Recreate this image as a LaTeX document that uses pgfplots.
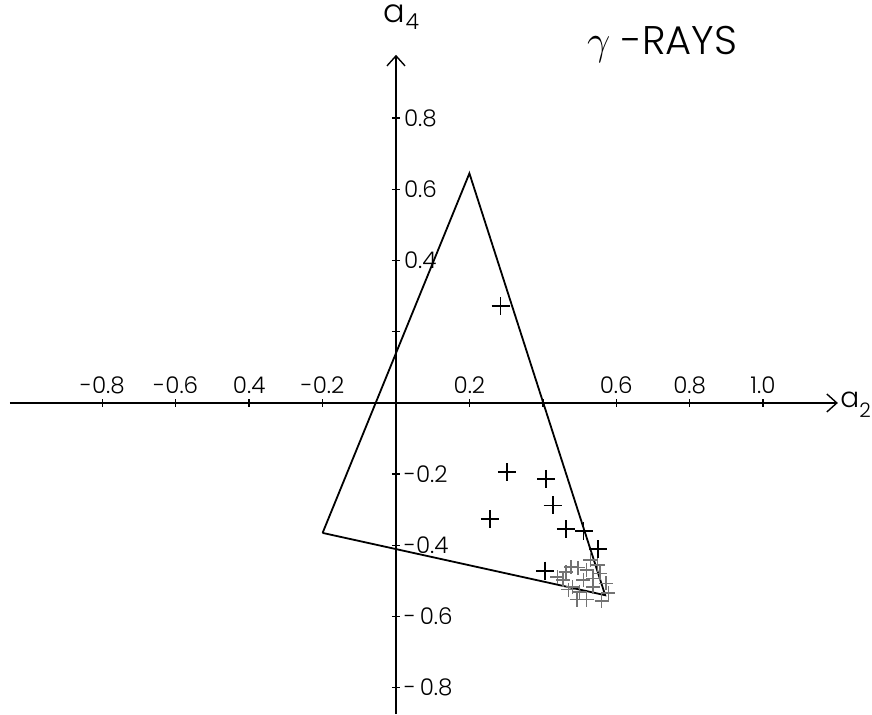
\documentclass[border=0pt]{standalone}
\usepackage{pgfplots}
\pgfplotsset{compat=1.18}
\usepackage{pgfplotstable}
\usepackage{fontspec}
\setmainfont{Poppins}[UprightFont={* Light}]
\usetikzlibrary{arrows.meta}

% boundary of the allowed region (closed triangle)
\pgfplotstableread{
x y
-0.200 -0.365
0.200 0.645
0.570 -0.540
-0.200 -0.365
}\boundary

% individual measurements
\pgfplotstableread{
x y
0.285 0.272
0.302 -0.195
0.409 -0.213
0.427 -0.288
0.256 -0.327
0.463 -0.355
0.511 -0.359
0.551 -0.411
0.406 -0.471
}\isolated

% dense group near the lower right corner
\pgfplotstableread{
x y
0.477 -0.461
0.463 -0.475
0.496 -0.463
0.520 -0.469
0.556 -0.478
0.537 -0.492
0.455 -0.497
0.482 -0.517
0.537 -0.517
0.572 -0.506
0.493 -0.553
0.520 -0.553
0.561 -0.556
0.439 -0.489
0.510 -0.497
0.550 -0.455
0.501 -0.531
0.578 -0.534
0.469 -0.525
0.529 -0.441
}\cluster

\begin{document}
\begin{tikzpicture}
\begin{axis}[
  x=183.5pt, y=178pt,
  xmin=-1.052, xmax=1.204, ymin=-0.874, ymax=0.978,
  axis lines=middle,
  axis line style={line width=0.7pt, -{Straight Barb[length=5pt,width=9pt]}},
  clip=false,
  xtick={-0.8,-0.6,-0.4,-0.2,0.2,0.4,0.6,0.8,1.0},
  xticklabels={-0.8,-0.6,0.4,-0.2,0.2,{},0.6,0.8,1.0},
  ytick={-0.8,-0.6,-0.4,-0.2,0.2,0.4,0.6,0.8},
  yticklabels={-\,0.8,-\,0.6,-0.4,-0.2,{},0.4,0.6,0.8},
  tick align=center, major tick length=4pt,
  tick style={black, line width=0.7pt},
  xticklabel style={anchor=south, yshift=3pt, font=\fontsize{11.5}{13}\selectfont},
  yticklabel style={anchor=west, xshift=2.5pt, font=\fontsize{11.5}{13}\selectfont},
]
\addplot[black, line width=0.9pt, mark=none] table[x=x, y=y] {\boundary};
\addplot[only marks, mark=+, mark size=4.5pt, mark options={line width=0.9pt, black}] table[x=x, y=y] {\isolated};
\addplot[only marks, mark=+, mark size=3.5pt, mark options={line width=0.6pt, black!55}] table[x=x, y=y] {\cluster};

\node[inner sep=0pt, anchor=west] at (axis cs:1.210,-0.005) {\fontsize{14}{14}\selectfont a\raisebox{-0.6ex}{\fontsize{10}{10}\selectfont 2}};
\node at (axis cs:0.015,1.084) {\fontsize{16}{16}\selectfont a\raisebox{-0.4ex}{\fontsize{11}{11}\selectfont 4}};
\node at (axis cs:0.725,1.006) {\fontsize{20}{20}\selectfont $\gamma$ -RAYS};

\coordinate (bbsw) at (axis cs:-1.079,-0.874);
\coordinate (bbne) at (axis cs:1.297,1.132);
\end{axis}
\pgfresetboundingbox
\path (bbsw) rectangle (bbne);
\end{tikzpicture}
\end{document}
